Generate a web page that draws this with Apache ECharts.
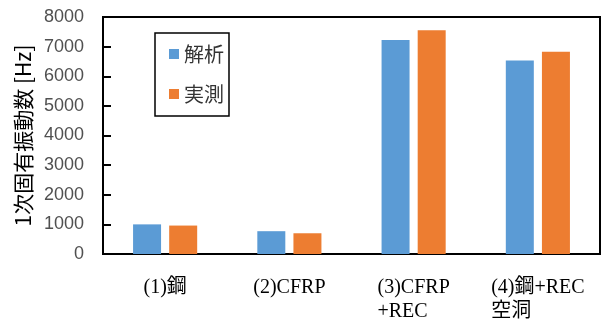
<!DOCTYPE html>
<html><head><meta charset="utf-8">
<script src="https://cdn.jsdelivr.net/npm/echarts@6/dist/echarts.min.js"></script>
<style>html,body{margin:0;padding:0;background:#fff}#c{width:613px;height:329px}</style>
</head><body><div id="c"></div>
<script>
const categories = ['(1)鋼', '(2)CFRP', '(3)CFRP\n+REC', '(4)鋼+REC\n空洞'];
const analysis = [1000, 770, 7220, 6530];
const measured = [960, 700, 7550, 6830];
const seriesNames = ['解析', '実測'];
const yTicks = {min: 0, max: 8000, interval: 1000};
const yTitle = '1次固有振動数 [Hz]';

const serif = '"Liberation Serif", "Noto Sans CJK JP"';
const chart = echarts.init(document.getElementById('c'), null, {renderer: 'canvas'});
chart.setOption({
  animation: false,
  backgroundColor: '#fff',
  grid: {left: 103, right: 13, top: 17, bottom: 75, show: true, borderColor: '#000', borderWidth: 2, containLabel: false},
  legend: {
    orient: 'vertical', left: 155, top: 33,
    data: seriesNames,
    icon: 'rect', itemWidth: 10, itemHeight: 10, itemGap: 20,
    padding: [11, 5, 12, 14],
    borderColor: '#000', borderWidth: 1.5, backgroundColor: '#fff',
    textStyle: {fontSize: 20, color: '#333', fontFamily: 'Noto Sans CJK JP'}
  },
  xAxis: {
    type: 'category', data: categories,
    axisLine: {lineStyle: {color: '#000', width: 2}},
    axisTick: {show: false},
    axisLabel: {
      interval: 0, margin: 22,
      fontFamily: serif, fontSize: 20, color: '#000',
      formatter: function (v) { return v.split('\n').map(s => '{a|' + s + '}').join('\n'); },
      rich: {a: {align: 'left', fontSize: 20, lineHeight: 24, fontFamily: serif, color: '#000'}}
    }
  },
  yAxis: {
    type: 'value', min: yTicks.min, max: yTicks.max, interval: yTicks.interval,
    name: yTitle, nameLocation: 'middle', nameGap: 66, nameRotate: 90,
    nameTextStyle: {fontSize: 21, color: '#000', fontFamily: 'Noto Sans CJK JP'},
    axisLine: {show: true, lineStyle: {color: '#000', width: 2}},
    axisTick: {show: true, inside: true, length: 8, lineStyle: {color: '#000', width: 2}},
    splitLine: {show: false},
    axisLabel: {margin: 19, fontSize: 18, color: '#505050', fontFamily: 'Liberation Sans', formatter: v => String(v)}
  },
  series: [
    {name: seriesNames[0], type: 'bar', data: analysis, barWidth: 28, barGap: '29%', itemStyle: {color: '#5B9BD5'}},
    {name: seriesNames[1], type: 'bar', data: measured, barWidth: 28, barGap: '29%', itemStyle: {color: '#ED7D31'}}
  ]
});
</script></body></html>
